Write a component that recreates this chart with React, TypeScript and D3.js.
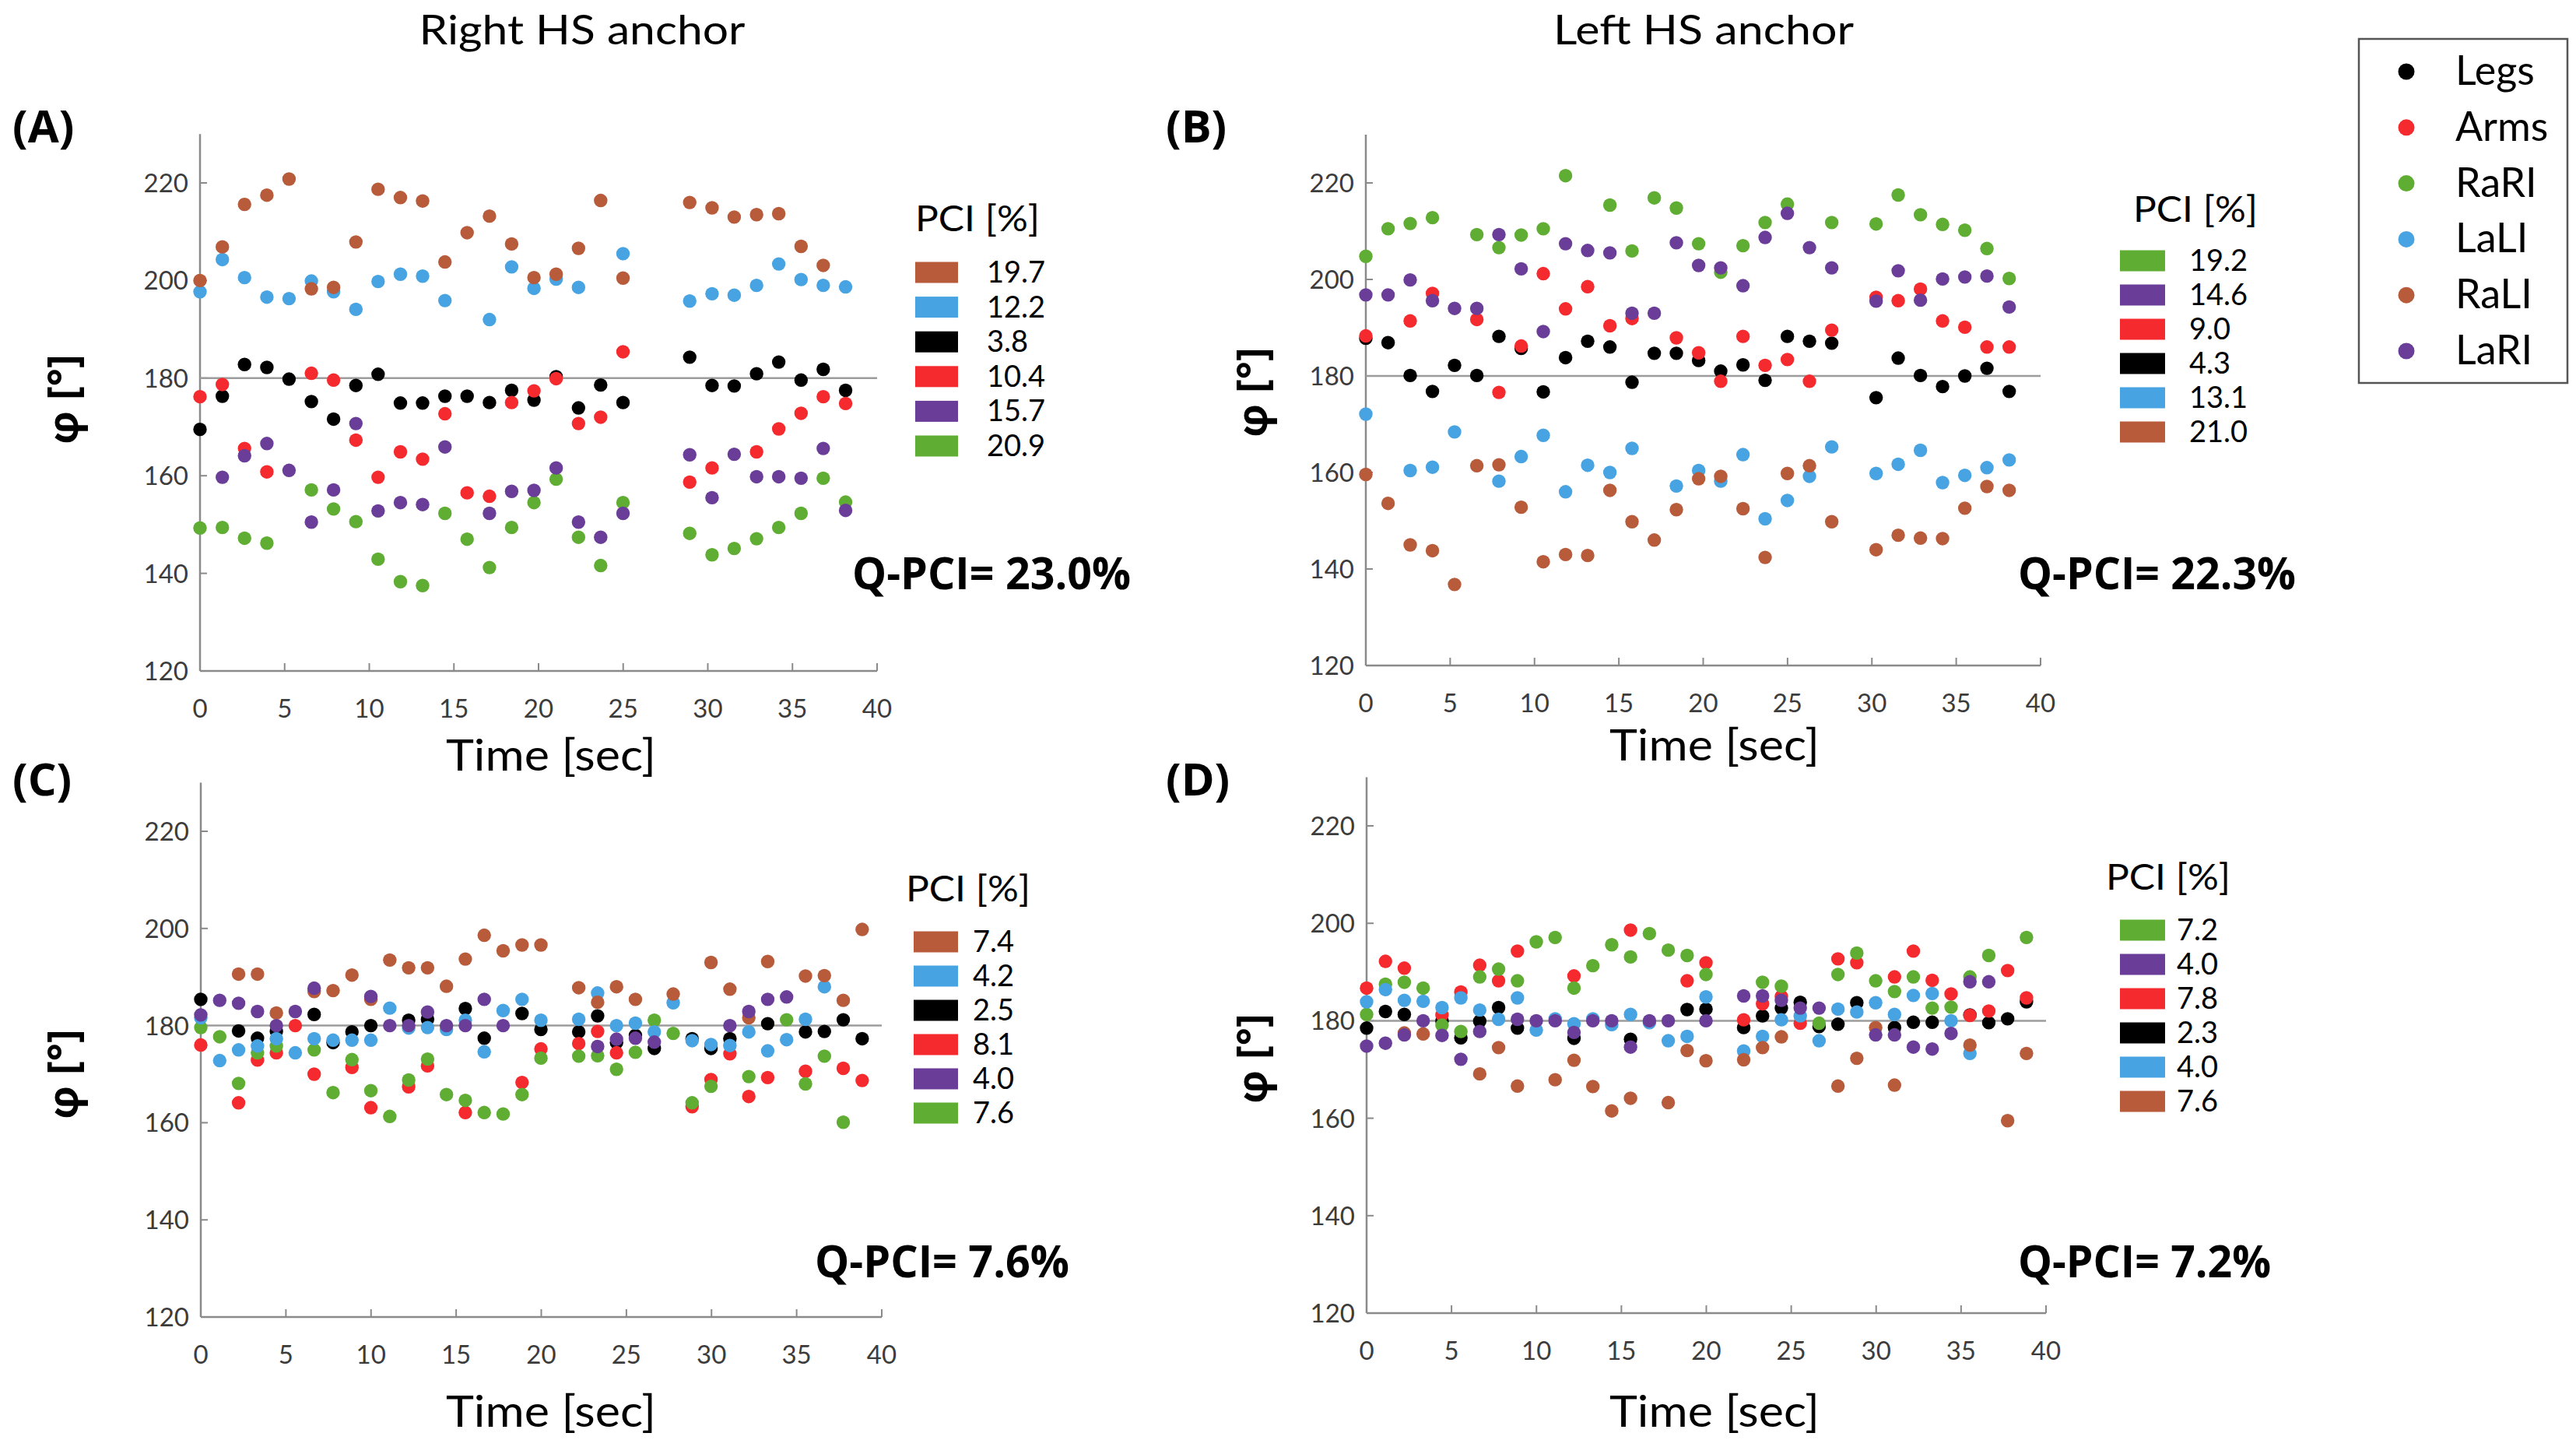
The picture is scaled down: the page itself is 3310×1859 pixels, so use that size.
import React from 'react';
import * as d3 from 'd3';

// ---------------- DATA ----------------
const SERIES = ['Legs', 'Arms', 'RaRI', 'LaLI', 'RaLI', 'LaRI'];
const COLORS: Record<string, string> = {
  Legs: '#000000',
  Arms: '#f52a2e',
  RaRI: '#5fad32',
  LaLI: '#47a3e1',
  RaLI: '#b75b3b',
  LaRI: '#6a3d98',
};

const xTicks = [0, 5, 10, 15, 20, 25, 30, 35, 40];
const yTicks = [120, 140, 160, 180, 200, 220];

// Panel A (Right HS anchor, top)
const timeA = [0, 1.32, 2.63, 3.95, 5.26, 6.58, 7.89, 9.21, 10.52, 11.84, 13.15, 14.47, 15.78, 17.1, 18.41, 19.73, 21.04, 22.36, 23.67, 24.99, 28.93, 30.25, 31.56, 32.88, 34.19, 35.51, 36.82, 38.14];
const legsA = [169.5, 176.3, 182.8, 182.2, 179.8, 175.2, 171.6, 178.5, 180.8, 174.9, 174.9, 176.3, 176.3, 175.0, 177.5, 175.5, 180.3, 173.9, 178.6, 175.0, 184.3, 178.5, 178.4, 180.9, 183.3, 179.6, 181.8, 177.5];
const armsA = [176.2, 178.7, 165.6, 160.8, null, 181.0, 179.6, 167.3, 159.7, 164.9, 163.4, 172.7, 156.5, 155.8, 175.0, 177.4, 179.9, 170.7, 172.0, 185.4, 158.7, 161.6, null, 164.9, 169.6, 172.8, 176.2, 174.8];
const rariA = [149.3, 149.4, 147.2, 146.2, null, 157.1, 153.2, 150.6, 142.9, 138.3, 137.5, 152.3, 147.0, 141.2, 149.4, 154.5, 159.3, 147.4, 141.6, 154.5, 148.2, 143.8, 145.1, 147.1, 149.4, 152.3, 159.5, 154.6];
const laliA = [197.7, 204.3, 200.6, 196.6, 196.3, 199.9, 197.7, 194.1, 199.8, 201.3, 200.9, 195.9, null, 192.0, 202.8, 198.4, 200.3, 198.6, null, 205.5, 195.8, 197.3, 197.0, 199.0, 203.4, 200.2, 199.0, 198.7];
const raliA = [200.0, 206.9, 215.6, 217.5, 220.8, 198.3, 198.6, 207.9, 218.7, 217.0, 216.3, 203.8, 209.8, 213.2, 207.5, 200.6, 201.3, 206.6, 216.4, 200.5, 216.0, 214.9, 213.0, 213.5, 213.7, 207.0, 203.1, null];
const lariA = [null, 159.7, 164.1, 166.6, 161.1, 150.5, 157.1, 170.7, 152.8, 154.5, 154.1, 165.9, null, 152.3, 156.8, 157.0, 161.6, 150.5, 147.4, 152.3, 164.3, 155.5, 164.4, 159.8, 159.8, 159.5, 165.6, 152.9];
const pciKeysA = ['RaLI', 'LaLI', 'Legs', 'Arms', 'LaRI', 'RaRI'];
const pciValsA = ['19.7', '12.2', '3.8', '10.4', '15.7', '20.9'];

// Panel B (Left HS anchor, top)
const timeB = [0, 1.32, 2.63, 3.95, 5.26, 6.58, 7.89, 9.21, 10.52, 11.84, 13.15, 14.47, 15.78, 17.1, 18.41, 19.73, 21.04, 22.36, 23.67, 24.99, 26.3, 27.62, 30.25, 31.56, 32.88, 34.19, 35.51, 36.82, 38.14];
const legsB = [187.8, 186.9, 180.1, 176.8, 182.2, 180.1, 188.2, 185.7, 176.7, 183.8, 187.2, 186.0, 178.7, 184.7, 184.7, 183.2, 181.0, 182.3, 179.1, 188.2, 187.2, 186.8, 175.5, 183.7, 180.1, 177.8, 180.0, 181.6, 176.8];
const armsB = [188.3, null, 191.4, 197.1, null, 191.7, 176.6, 186.2, 201.2, 193.9, 198.5, 190.4, 191.9, null, 187.9, 184.8, 178.9, 188.2, 182.2, 183.4, 178.9, 189.5, 196.3, 195.6, 198.0, 191.4, 190.1, 186.0, 186.0];
const rariB = [204.8, 210.5, 211.6, 212.8, null, 209.3, 206.6, 209.2, 210.5, 221.5, null, 215.4, 205.9, 216.9, 214.8, 207.4, 201.5, 207.0, 211.8, 215.6, null, 211.8, 211.5, 217.5, 213.4, 211.4, 210.2, 206.4, 200.2];
const laliB = [172.1, null, 160.4, 161.1, 168.4, null, 158.2, 163.3, 167.7, 156.0, 161.5, 160.0, 165.0, null, 157.2, 160.4, 158.2, 163.7, 150.4, 154.2, 159.2, 165.3, 159.8, 161.7, 164.6, 157.9, 159.4, 161.0, 162.6];
const raliB = [159.6, 153.6, 145.0, 143.8, 136.8, 161.4, 161.6, 152.8, 141.5, 143.0, 142.8, 156.3, 149.8, 146.0, 152.3, 158.7, 159.2, 152.5, 142.4, 159.8, 161.4, 149.8, 144.0, 147.0, 146.4, 146.3, 152.6, 157.1, 156.3];
const lariB = [196.8, 196.8, 199.9, 195.6, 194.0, 194.0, 209.3, 202.2, 189.2, 207.4, 206.0, 205.5, 193.0, 193.0, 207.6, 202.9, 202.4, 198.7, 208.7, 213.7, 206.6, 202.4, 195.5, 201.8, 195.7, 200.1, 200.5, 200.7, 194.3];
const pciKeysB = ['RaRI', 'LaRI', 'Arms', 'Legs', 'LaLI', 'RaLI'];
const pciValsB = ['19.2', '14.6', '9.0', '4.3', '13.1', '21.0'];

// Panel C (Right HS anchor, bottom)
const timeC = [0, 1.11, 2.22, 3.33, 4.44, 5.55, 6.66, 7.77, 8.88, 9.99, 11.1, 12.21, 13.32, 14.43, 15.54, 16.65, 17.76, 18.87, 19.98, 22.2, 23.31, 24.42, 25.53, 26.64, 27.75, 28.86, 29.97, 31.08, 32.19, 33.3, 34.41, 35.52, 36.63, 37.74, 38.85];
const legsC = [185.4, null, 178.9, 177.4, 178.8, null, 182.3, 176.5, 178.7, 180.0, null, 181.1, 181.3, null, 183.5, 177.4, null, 182.5, 179.2, 178.7, 182.0, 176.5, 178.0, 175.3, null, 177.3, 175.3, 177.3, null, 180.4, null, 178.7, 178.8, 181.2, 177.3];
const armsC = [176.0, null, 164.1, 172.9, 174.4, 180.0, 170.0, null, 171.4, 163.1, null, 167.4, 171.7, null, 162.1, null, null, 168.3, 175.2, 176.3, 178.8, 174.4, null, null, null, 163.3, 168.9, 174.2, 165.4, 169.3, null, 170.6, null, 171.2, 168.7];
const rariC = [179.6, 177.7, 168.1, 174.4, 175.8, null, 175.0, 166.2, 173.0, 166.6, 161.3, 168.8, 173.1, 165.8, 164.6, 162.1, 161.8, 165.8, 173.3, 173.7, 173.8, 171.0, 174.5, 181.1, 178.4, 164.1, 167.5, null, 169.5, null, 181.2, 168.0, 173.7, 160.1, null];
const laliC = [181.6, 172.8, 175.0, 175.8, 177.3, 174.4, 177.3, 177.0, 177.0, 177.0, 183.6, 179.5, 179.6, 179.2, 181.1, 174.6, 183.1, 185.4, 181.1, 181.3, 186.7, 180.0, 180.5, 178.7, 184.7, 176.9, 176.1, 175.9, 178.7, 174.8, 177.1, 181.3, 188.0, null, null];
const raliC = [null, null, 190.6, 190.6, 182.6, null, 187.0, 187.2, 190.4, 185.4, 193.5, 191.9, 191.9, 188.1, 193.7, 198.6, 195.4, 196.6, 196.6, 187.8, 184.8, 188.0, 185.4, null, 186.5, null, 193.0, 187.5, 181.6, 193.2, null, 190.2, 190.3, 185.2, 199.8];
const lariC = [182.2, 185.2, 184.6, 182.9, 180.0, 182.9, 187.7, null, null, 186.0, 180.0, 180.0, 182.8, 180.0, 180.0, 185.4, 180.0, null, null, null, 175.7, 177.2, 177.4, 176.6, null, null, null, 180.0, 182.9, 185.4, 185.9, null, null, null, null];
const pciKeysC = ['RaLI', 'LaLI', 'Legs', 'Arms', 'LaRI', 'RaRI'];
const pciValsC = ['7.4', '4.2', '2.5', '8.1', '4.0', '7.6'];

// Panel D (Left HS anchor, bottom)
const timeD = [0, 1.11, 2.22, 3.33, 4.44, 5.55, 6.66, 7.77, 8.88, 9.99, 11.1, 12.21, 13.32, 14.43, 15.54, 16.65, 17.76, 18.87, 19.98, 22.2, 23.31, 24.42, 25.53, 26.64, 27.75, 28.86, 29.97, 31.08, 32.19, 33.3, 34.41, 35.52, 36.63, 37.74, 38.85];
const legsD = [178.5, 181.9, 181.3, null, 179.9, 176.5, 179.9, 182.7, 178.5, null, null, 176.4, null, null, 176.2, null, null, 182.3, 182.4, 178.6, 181.0, 182.6, 183.8, 178.8, 179.3, 183.7, null, 178.6, 179.7, 179.7, null, 181.2, 179.6, 180.4, 183.9];
const armsD = [186.7, 192.2, 190.8, null, 181.2, 185.9, 191.4, 188.2, 194.3, null, null, 189.2, null, null, 198.6, null, null, 188.2, 191.9, 180.2, 183.5, 185.0, 179.5, null, 192.7, 191.9, null, 189.0, 194.3, 188.3, 185.5, 181.1, 182.0, 190.3, 184.7];
const rariD = [181.3, 187.5, 187.9, 186.7, 179.1, 177.8, 189.0, 190.6, 188.2, 196.2, 197.1, 186.7, 191.3, 195.6, 193.1, 197.9, 194.5, 193.4, 189.5, null, 187.9, 187.1, null, 179.5, 189.5, 193.9, 188.2, 186.0, 189.0, 182.6, 182.8, 189.0, 193.4, null, 197.1];
const laliD = [183.9, 186.4, 184.2, 184.0, 182.7, 184.7, 182.2, 180.3, 184.7, 178.1, 180.4, 179.4, 180.4, 179.2, 181.3, 179.6, 175.9, 176.8, 184.9, 173.8, 176.8, 180.2, 181.0, 175.9, 182.4, 181.8, 183.7, 181.3, 185.2, 185.6, 180.0, 173.3, null, null, null];
const raliD = [null, null, 177.5, 177.3, null, null, 169.1, 174.5, 166.6, null, 167.9, 171.9, 166.5, 161.5, 164.1, null, 163.2, 173.9, 171.8, 172.0, 174.5, 176.7, null, null, 166.6, 172.3, 178.6, 166.8, null, null, null, 175.0, null, 159.5, 173.3];
const lariD = [174.8, 175.4, 177.1, 180.0, 177.0, 172.1, 177.8, null, 180.3, 180.0, 180.0, 177.6, 180.0, 180.0, 174.6, 180.0, 180.0, null, 180.0, 185.1, 185.1, 184.2, 182.6, 182.6, null, null, 177.1, 177.1, 174.6, 174.2, 177.4, 188.0, 188.0, null, null];
const pciKeysD = ['RaRI', 'LaRI', 'Arms', 'Legs', 'LaLI', 'RaLI'];
const pciValsD = ['7.2', '4.0', '7.8', '2.3', '4.0', '7.6'];

const columnTitles = ['Right HS anchor', 'Left HS anchor'];
const qpciLabels = ['Q-PCI= 23.0%', 'Q-PCI= 22.3%', 'Q-PCI= 7.6%', 'Q-PCI= 7.2%'];
const panelLetters = ['(A)', '(B)', '(C)', '(D)'];

// ---------------- LAYOUT ----------------
const W = 3310;
const H = 1859;
const FONT = "Lato, 'Open Sans', 'DejaVu Sans', sans-serif";
const BOLD = "'Open Sans', Lato, 'DejaVu Sans', sans-serif";

type Layout = {
  x0: number; x40: number; y120: number; y220: number;
  letter: [number, number]; phi: [number, number]; time: [number, number];
  q: [number, number, number]; pciTitle: [number, number];
  swX: number; swW: number; swY0: number; swStep: number; txtX: number;
};

const layouts: Layout[] = [
  { x0: 257, x40: 1127, y120: 862, y220: 235, letter: [16, 183], phi: [82, 513], time: [708, 990],
    q: [1095, 757, 358], pciTitle: [1176, 297], swX: 1176, swW: 55, swY0: 350, swStep: 44.6, txtX: 1268 },
  { x0: 1755, x40: 2622, y120: 855, y220: 235, letter: [1498, 183], phi: [1610, 504], time: [2203, 977],
    q: [2593, 757, 357], pciTitle: [2741, 285], swX: 2724, swW: 58, swY0: 335, swStep: 44, txtX: 2813 },
  { x0: 258, x40: 1133, y120: 1692, y220: 1068, letter: [16, 1022], phi: [82, 1380], time: [708, 1833],
    q: [1047, 1641, 327], pciTitle: [1164, 1158], swX: 1174, swW: 57, swY0: 1210, swStep: 44, txtX: 1250 },
  { x0: 1756, x40: 2629, y120: 1687, y220: 1061, letter: [1498, 1022], phi: [1610, 1360], time: [2203, 1833],
    q: [2593, 1641, 325], pciTitle: [2706, 1143], swX: 2724, swW: 58, swY0: 1195, swStep: 44, txtX: 2797 },
];

const panelData = [
  { times: timeA, vals: { Legs: legsA, Arms: armsA, RaRI: rariA, LaLI: laliA, RaLI: raliA, LaRI: lariA }, keys: pciKeysA, pv: pciValsA },
  { times: timeB, vals: { Legs: legsB, Arms: armsB, RaRI: rariB, LaLI: laliB, RaLI: raliB, LaRI: lariB }, keys: pciKeysB, pv: pciValsB },
  { times: timeC, vals: { Legs: legsC, Arms: armsC, RaRI: rariC, LaLI: laliC, RaLI: raliC, LaRI: lariC }, keys: pciKeysC, pv: pciValsC },
  { times: timeD, vals: { Legs: legsD, Arms: armsD, RaRI: rariD, LaLI: laliD, RaLI: raliD, LaRI: lariD }, keys: pciKeysD, pv: pciValsD },
];

const AXIS = '#8a8a8a';

function Panel({ idx }: { idx: number }) {
  const L = layouts[idx];
  const D = panelData[idx];
  const x = d3.scaleLinear().domain([0, 40]).range([L.x0, L.x40]);
  const y = d3.scaleLinear().domain([120, 220]).range([L.y120, L.y220]);
  return (
    <g>
      {/* axes */}
      <line x1={x(0)} x2={x(0)} y1={y(120)} y2={y(230)} stroke={AXIS} strokeWidth={2.5} />
      <line x1={x(0)} x2={x(40)} y1={y(120)} y2={y(120)} stroke={AXIS} strokeWidth={2.5} />
      {xTicks.map((t) => (
        <g key={'xt' + t}>
          <line x1={x(t)} x2={x(t)} y1={y(120)} y2={y(120) - 10} stroke={AXIS} strokeWidth={2} />
          <text x={x(t)} y={y(120) + 60} textAnchor="middle" fontFamily={FONT} fontSize={33} fill="#3c3c3c">{t}</text>
        </g>
      ))}
      {yTicks.map((v) => (
        <g key={'yt' + v}>
          <line x1={x(0)} x2={x(0) + 9} y1={y(v)} y2={y(v)} stroke={AXIS} strokeWidth={2} />
          <text x={x(0) - 15} y={y(v) + 12} textAnchor="end" fontFamily={FONT} fontSize={33} fill="#3c3c3c">{v}</text>
        </g>
      ))}
      <line x1={x(0)} x2={x(40)} y1={y(180)} y2={y(180)} stroke="#9c9c9c" strokeWidth={2.5} />
      {/* points */}
      {SERIES.map((s) => (
        <g key={s} fill={COLORS[s]}>
          {(D.vals as any)[s].map((v: number | null, i: number) =>
            v == null ? null : <circle key={i} cx={x(D.times[i])} cy={y(v)} r={8.7} />
          )}
        </g>
      ))}
      {/* texts */}
      <text x={L.letter[0]} y={L.letter[1]} fontFamily={BOLD} fontWeight={700} fontSize={58} fill="#000">{panelLetters[idx]}</text>
      <text transform={`translate(${L.phi[0] + 18},${L.phi[1]}) rotate(-90)`} textAnchor="middle" fontFamily={BOLD} fontWeight={700} fontSize={54} fill="#000">φ [°]</text>
      <text x={L.time[0]} y={L.time[1]} textAnchor="middle" fontFamily={FONT} fontSize={56} fill="#000" textLength={270} lengthAdjust="spacingAndGlyphs">Time [sec]</text>
      <text x={L.q[0]} y={L.q[1]} fontFamily={BOLD} fontWeight={700} fontSize={58} fill="#000" textLength={L.q[2]} lengthAdjust="spacingAndGlyphs">{qpciLabels[idx]}</text>
      <text x={L.pciTitle[0]} y={L.pciTitle[1]} fontFamily={FONT} fontSize={46} fill="#000" textLength={160} lengthAdjust="spacingAndGlyphs">PCI [%]</text>
      {D.keys.map((k, i) => (
        <g key={'sw' + i}>
          <rect x={L.swX} y={L.swY0 + i * L.swStep - 13.5} width={L.swW} height={27} fill={COLORS[k]} />
          <text x={L.txtX} y={L.swY0 + i * L.swStep + 13} fontFamily={FONT} fontSize={38} fill="#000">{D.pv[i]}</text>
        </g>
      ))}
    </g>
  );
}

function MainLegend() {
  const y0 = 92;
  const step = 71.8;
  return (
    <g>
      <rect x={3031} y={50} width={268} height={442} fill="#fff" stroke="#555" strokeWidth={2.5} />
      {SERIES.map((s, i) => (
        <g key={s}>
          <circle cx={3092} cy={y0 + i * step} r={10.5} fill={COLORS[s]} />
          <text x={3155} y={y0 + i * step + 17} fontFamily={FONT} fontSize={52} fill="#000">{s}</text>
        </g>
      ))}
    </g>
  );
}

export default function App() {
  return (
    <svg width={W} height={H} viewBox={`0 0 ${W} ${H}`} style={{ position: 'absolute', left: 0, top: 0, display: 'block', background: '#fff' }}>
      <rect x={0} y={0} width={W} height={H} fill="#fff" />
      <text x={748} y={57} textAnchor="middle" fontFamily={FONT} fontSize={52} fill="#000" textLength={419} lengthAdjust="spacingAndGlyphs">{columnTitles[0]}</text>
      <text x={2189} y={57} textAnchor="middle" fontFamily={FONT} fontSize={52} fill="#000" textLength={386} lengthAdjust="spacingAndGlyphs">{columnTitles[1]}</text>
      {[0, 1, 2, 3].map((i) => <Panel key={i} idx={i} />)}
      <MainLegend />
    </svg>
  );
}
